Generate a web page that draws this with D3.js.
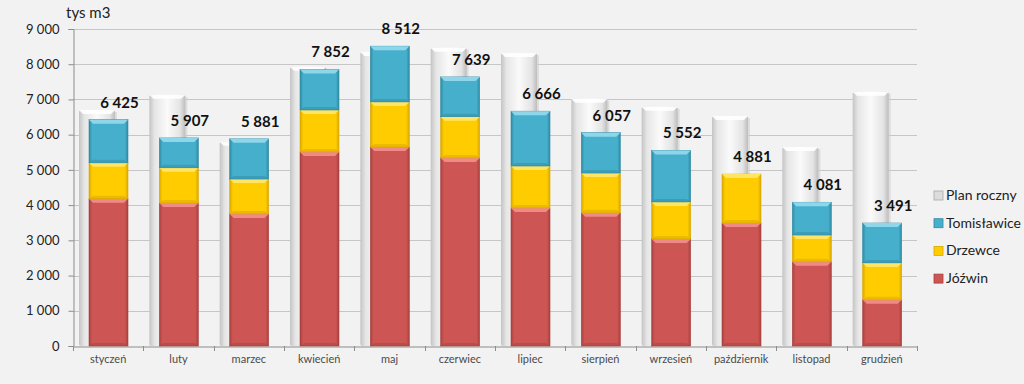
<!DOCTYPE html>
<html>
<head>
<meta charset="utf-8">
<script src="https://cdn.jsdelivr.net/npm/d3@7"></script>
<style>
  html, body { margin: 0; padding: 0; background: #f2f2f2; }
  svg { display: block; font-family: Lato, "Open Sans", sans-serif; }
</style>
</head>
<body>
<svg id="chart" width="1024" height="384"></svg>
<script>
// Chart data
var months = ["styczeń", "luty", "marzec", "kwiecień", "maj", "czerwiec",
              "lipiec", "sierpień", "wrzesień", "październik", "listopad", "grudzień"];
var planRoczny  = [6700, 7130, 5800, 7930, 8350, 8470, 8320, 7020, 6790, 6530, 5650, 7220];
var jozwin      = [4180, 4060, 3750, 5510, 5650, 5340, 3920, 3780, 3040, 3490, 2390, 1310];
var drzewce     = [1020, 1000,  990, 1190, 1280, 1170, 1190, 1130, 1050, 1391,  760, 1050];
var tomislawice = [1225,  847, 1141, 1152, 1582, 1129, 1556, 1147, 1462,    0,  931, 1131];
var yTicks = [0, 1000, 2000, 3000, 4000, 5000, 6000, 7000, 8000, 9000];

var seriesKeys = ["Jóźwin", "Drzewce", "Tomisławice"];
var seriesColor = { "Jóźwin": "#cd5553", "Drzewce": "#ffcc00", "Tomisławice": "#46b0cc" };
var seriesDark  = { "Jóźwin": "#a8413f", "Drzewce": "#d9a800", "Tomisławice": "#2f8aa3" };
var seriesLight = { "Jóźwin": "#f08a86", "Drzewce": "#ffe566", "Tomisławice": "#8fd6ea" };

var rows = months.map(function (m, i) {
    return { month: m, "Jóźwin": jozwin[i], "Drzewce": drzewce[i], "Tomisławice": tomislawice[i],
             plan: planRoczny[i], total: jozwin[i] + drzewce[i] + tomislawice[i] };
});

var svg = d3.select("#chart");
var plotLeft = 73, plotRight = 917, plotTop = 29, plotBottom = 346;

var x = d3.scaleBand().domain(months).range([plotLeft, plotRight]).padding(0);
var y = d3.scaleLinear().domain([0, 9000]).range([plotBottom, plotTop]);
var bw = x.bandwidth();
var fmt = function (d) { return d3.format(",")(d).replace(/,/g, " "); };

// Gradients for the bevelled look
var defs = svg.append("defs");
seriesKeys.forEach(function (k, i) {
    var g = defs.append("linearGradient").attr("id", "grad" + i)
        .attr("x1", 0).attr("x2", 1).attr("y1", 0).attr("y2", 0);
    g.append("stop").attr("offset", "0").attr("stop-color", seriesDark[k]);
    g.append("stop").attr("offset", "0.08").attr("stop-color", seriesColor[k]);
    g.append("stop").attr("offset", "0.92").attr("stop-color", seriesColor[k]);
    g.append("stop").attr("offset", "1").attr("stop-color", seriesDark[k]);
});
var pg = defs.append("linearGradient").attr("id", "planGrad")
    .attr("x1", 0).attr("x2", 1).attr("y1", 0).attr("y2", 0);
pg.append("stop").attr("offset", "0").attr("stop-color", "#c4c4c4");
pg.append("stop").attr("offset", "0.15").attr("stop-color", "#e6e6e6");
pg.append("stop").attr("offset", "0.5").attr("stop-color", "#fafafa");
pg.append("stop").attr("offset", "0.85").attr("stop-color", "#e4e4e4");
pg.append("stop").attr("offset", "1").attr("stop-color", "#bdbdbd");

// Gridlines
svg.append("g").selectAll("line")
    .data(yTicks.filter(function (d) { return d > 0; }))
    .enter().append("line")
    .attr("x1", plotLeft).attr("x2", plotRight)
    .attr("y1", function (d) { return Math.round(y(d)) + 0.5; })
    .attr("y2", function (d) { return Math.round(y(d)) + 0.5; })
    .style("stroke", "#c6c6c6").style("stroke-width", 1);

// Y axis
var yAxis = svg.append("g")
    .attr("transform", "translate(" + (plotLeft + 0.5) + ",0)")
    .call(d3.axisLeft(y).tickValues(yTicks).tickSize(5).tickPadding(9).tickFormat(fmt));
yAxis.select(".domain").style("stroke", "#8c8c8c");
yAxis.selectAll(".tick line").style("stroke", "#8c8c8c");
yAxis.selectAll("text").style("font-size", "13px").style("fill", "#222")
    .style("font-family", "Lato, sans-serif");

// X axis
var xAxis = svg.append("g")
    .attr("transform", "translate(0," + (plotBottom + 0.5) + ")")
    .call(d3.axisBottom(x).tickSize(0).tickPadding(9));
xAxis.select(".domain").style("stroke", "#8c8c8c");
xAxis.selectAll("text").style("font-size", "11px").style("fill", "#4a4a4a")
    .style("font-family", "Lato, sans-serif");
svg.append("g").selectAll("line")
    .data(months.concat(["end"]))
    .enter().append("line")
    .attr("x1", function (d, i) { return Math.round(plotLeft + i * bw) + 0.5; })
    .attr("x2", function (d, i) { return Math.round(plotLeft + i * bw) + 0.5; })
    .attr("y1", plotBottom).attr("y2", plotBottom + 5)
    .style("stroke", "#8c8c8c");

// Plan bars (behind)
var planW = 36, planOff = 6;
var plan = svg.append("g").selectAll("g").data(rows).enter().append("g");
plan.append("rect")
    .attr("x", function (d) { return x(d.month) + planOff + 2; })
    .attr("y", function (d) { return y(d.plan) + 2; })
    .attr("width", planW)
    .attr("height", function (d) { return plotBottom - y(d.plan) - 2; })
    .style("fill", "#cfcfcf").style("opacity", 0.6);
plan.append("rect")
    .attr("x", function (d) { return x(d.month) + planOff; })
    .attr("y", function (d) { return y(d.plan); })
    .attr("width", planW)
    .attr("height", function (d) { return plotBottom - y(d.plan); })
    .attr("rx", 2)
    .style("fill", "url(#planGrad)");
plan.append("path")
    .attr("d", function (d) {
        var x0 = x(d.month) + planOff, y0 = y(d.plan);
        return "M" + x0 + "," + y0 + "h" + planW + "l-4,4h" + (-(planW - 8)) + "z";
    })
    .style("fill", "#ffffff").style("opacity", 0.9);

// Stacked bars
var barW = 39, barOff = 16;
var stacked = d3.stack().keys(seriesKeys)(rows);
var layers = svg.append("g").selectAll("g").data(stacked).enter().append("g");
layers.each(function (layer, li) {
    var k = layer.key;
    var segs = d3.select(this).selectAll("g")
        .data(layer.filter(function (d) { return d[1] - d[0] > 0; }))
        .enter().append("g");
    segs.append("rect")
        .attr("x", function (d) { return x(d.data.month) + barOff; })
        .attr("y", function (d) { return y(d[1]); })
        .attr("width", barW)
        .attr("height", function (d) { return y(d[0]) - y(d[1]); })
        .style("fill", "url(#grad" + li + ")")
        .style("stroke", seriesDark[k]).style("stroke-width", 0.6);
    segs.append("path")
        .attr("d", function (d) {
            var x0 = x(d.data.month) + barOff, y0 = y(d[1]);
            return "M" + x0 + "," + y0 + "h" + barW + "l-4,4h" + (-(barW - 8)) + "z";
        })
        .style("fill", seriesLight[k]);
    segs.append("path")
        .attr("d", function (d) {
            var x0 = x(d.data.month) + barOff, y1 = y(d[0]);
            return "M" + x0 + "," + y1 + "h" + barW + "l-4,-3h" + (-(barW - 8)) + "z";
        })
        .style("fill", seriesDark[k]).style("opacity", 0.5);
});

// Total labels
svg.append("g").selectAll("text").data(rows).enter().append("text")
    .attr("x", function (d) { return x(d.month) + barOff + barW / 2 + 11; })
    .attr("y", function (d) { return y(d.total) - 12; })
    .attr("text-anchor", "middle")
    .style("font-size", "15px").style("font-weight", "bold").style("fill", "#111")
    .text(function (d) { return fmt(d.total); });

// Axis unit title
svg.append("text").attr("x", 66).attr("y", 18)
    .style("font-size", "15px").style("fill", "#222").text("tys m3");

// Legend
var legendItems = [
    { key: "Plan roczny", fill: "#dcdcdc", stroke: "#a8a8a8" },
    { key: "Tomisławice", fill: seriesColor["Tomisławice"], stroke: seriesDark["Tomisławice"] },
    { key: "Drzewce", fill: seriesColor["Drzewce"], stroke: seriesDark["Drzewce"] },
    { key: "Jóźwin", fill: seriesColor["Jóźwin"], stroke: seriesDark["Jóźwin"] }
];
var legend = svg.append("g").selectAll("g").data(legendItems).enter().append("g")
    .attr("transform", function (d, i) { return "translate(934," + (195 + i * 27.7) + ")"; });
legend.append("rect")
    .attr("x", 0).attr("y", -4).attr("width", 9).attr("height", 9)
    .style("fill", function (d) { return d.fill; })
    .style("stroke", function (d) { return d.stroke; }).style("stroke-width", 0.8);
legend.append("text")
    .attr("x", 12).attr("y", 5)
    .style("font-size", "14px").style("fill", "#222")
    .text(function (d) { return d.key; });
</script>
</body>
</html>
